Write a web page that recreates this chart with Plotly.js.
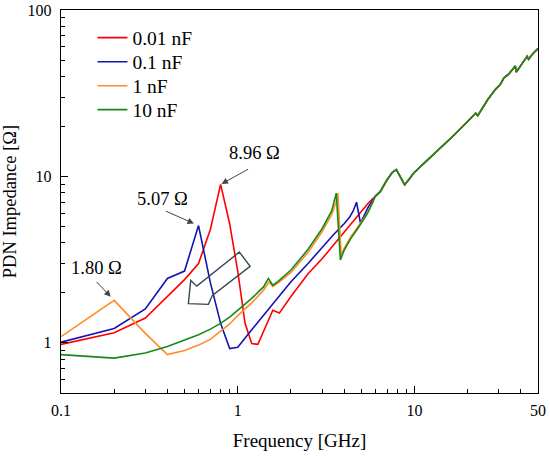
<!DOCTYPE html>
<html>
<head>
<meta charset="utf-8">
<script src="https://cdn.plot.ly/plotly-3.0.1.min.js"></script>
<style>html,body{margin:0;padding:0;background:#fff;}#chart{width:550px;height:458px;}</style>
</head>
<body>
<div id="chart"></div>
<script>
// ---- data (frequency in GHz, impedance in ohm) ----
const seriesNames = ["0.01 nF", "0.1 nF", "1 nF", "10 nF"];
const seriesColors = ["#ff0000", "#1414b4", "#ff8c28", "#168a16"];

const redF = [0.1, 0.2, 0.3, 0.4, 0.5, 0.6, 0.7, 0.8, 0.9, 1.0, 1.1, 1.2, 1.3, 1.58, 1.72, 2.0, 2.5, 3.0, 3.5, 4.0, 4.5, 5.0, 5.5];
const redZ = [0.98, 1.15, 1.41, 1.9, 2.4, 3.0, 4.8, 8.96, 5.2, 2.7, 1.31, 0.99, 0.98, 1.57, 1.51, 1.9, 2.6, 3.2, 3.9, 4.65, 5.4, 6.2, 6.95];

const blueF = [0.1, 0.2, 0.3, 0.4, 0.5, 0.6, 0.7, 0.8, 0.9, 1.0, 1.2, 1.5, 2.0, 2.5, 3.0, 3.5, 4.0, 4.3, 4.5, 4.7, 4.95, 5.2, 5.5];
const blueZ = [1.01, 1.22, 1.60, 2.44, 2.7, 5.07, 2.3, 1.31, 0.925, 0.94, 1.2, 1.6, 2.33, 3.0, 3.75, 4.5, 5.2, 5.7, 6.2, 7.0, 5.25, 5.8, 6.6];

const orangeF = [0.1, 0.2, 0.3, 0.4, 0.5, 0.6, 0.7, 0.8, 0.9, 1.0, 1.2, 1.4, 1.5, 1.58, 1.7, 2.0, 2.5, 3.0, 3.4, 3.6, 3.68, 3.85, 4.0, 4.34, 4.8, 5.4, 5.8];
const orangeZ = [1.09, 1.80, 1.14, 0.85, 0.9, 0.97, 1.05, 1.18, 1.3, 1.46, 1.74, 2.07, 2.32, 2.18, 2.3, 2.65, 3.5, 4.65, 5.9, 7.0, 7.94, 3.35, 3.7, 4.3, 5.0, 6.0, 7.0];

const greenF = [0.1, 0.2, 0.3, 0.4, 0.5, 0.6, 0.7, 0.8, 0.9, 1.0, 1.2, 1.4, 1.49, 1.58, 1.7, 2.0, 2.5, 3.0, 3.4, 3.61, 3.81, 4.0, 4.34, 4.8, 5.4, 5.8];
const greenZ = [0.85, 0.81, 0.87, 0.95, 1.04, 1.12, 1.21, 1.31, 1.43, 1.57, 1.85, 2.17, 2.44, 2.22, 2.35, 2.74, 3.65, 4.85, 6.2, 7.94, 3.15, 3.6, 4.2, 4.9, 5.95, 6.95];

// common high-frequency part (all curves coincide above ~6 GHz)
const tailF = [6.0, 6.4, 7.0, 7.5, 7.9, 8.3, 8.8, 9.3, 9.9, 12, 14, 17, 20, 22.2, 22.8, 23.5, 26, 28.8, 30.5, 32.1, 34, 37.2, 37.7, 40, 43.4, 44.2, 47, 50];
const tailZ = [7.6, 8.1, 9.55, 10.6, 11.0, 10.0, 8.9, 9.6, 10.5, 12.7, 14.8, 18.0, 21.4, 24.0, 23.2, 24.5, 29, 33.5, 35.5, 39.1, 41, 46, 42.4, 46.5, 52.7, 50.6, 55, 58.6];

// tick labels
const xTickVals = [0.1, 1, 10, 50];
const xTickText = ["0.1", "1", "10", "50"];
const yTickVals = [1, 10, 100];
const yTickText = ["1", "10", "100"];
const xMinor = [0.2,0.3,0.4,0.5,0.6,0.7,0.8,0.9,2,3,4,5,6,7,8,9,20,30,40];
const yMinor = [0.6,0.7,0.8,0.9,2,3,4,5,6,7,8,9,20,30,40,50,60,70,80,90];

// peak labels: [frequency, impedance] of the annotated peaks
const peakLabels = [
  {f: 0.8, z: 8.96, text: "8.96 Ω", xs: 34, ys: 31, ax: 29, ay: -16, so: 1},
  {f: 0.6, z: 5.07, text: "5.07 Ω", xs: -36, ys: 27, ax: -34, ay: -15, so: 5},
  {f: 0.2, z: 1.80, text: "1.80 Ω", xs: -18, ys: 32, ax: -19, ay: -20, so: 5}
];

// ---- build traces ----
const FONT = "Liberation Serif";
const legendIds = ["legend", "legend2", "legend3", "legend4"];
const legendY = [0.927, 0.864, 0.8015, 0.739];
const fList = [redF, blueF, orangeF, greenF];
const zList = [redZ, blueZ, orangeZ, greenZ];
const traces = fList.map((f, i) => ({
  type: "scatter", mode: "lines",
  x: f.concat(tailF), y: zList[i].concat(tailZ),
  name: seriesNames[i],
  legend: legendIds[i],
  line: {color: seriesColors[i], width: 1.6}
}));

const annotations = [];
peakLabels.forEach(p => {
  annotations.push({
    x: Math.log10(p.f), y: Math.log10(p.z), xref: "x", yref: "y",
    text: p.text, showarrow: false, xshift: p.xs, yshift: p.ys,
    font: {family: FONT, size: 18.5, color: "#000"}
  });
  annotations.push({
    x: Math.log10(p.f), y: Math.log10(p.z), xref: "x", yref: "y",
    text: "", showarrow: true, ax: p.ax, ay: p.ay, standoff: p.so,
    arrowhead: 2, arrowsize: 1.3, arrowwidth: 1, arrowcolor: "#444"
  });
});

const layout = {
  width: 550, height: 458,
  margin: {l: 61, r: 12, t: 10, b: 65},
  paper_bgcolor: "#fff", plot_bgcolor: "#fff",
  font: {family: FONT, size: 16, color: "#000"},
  showlegend: true,
  xaxis: {
    type: "log", range: [-1, Math.log10(50)],
    tickmode: "array", tickvals: xTickVals, ticktext: xTickText,
    ticks: "inside", ticklen: 7, tickwidth: 1.2, tickcolor: "#000",
    showline: true, linecolor: "#000", linewidth: 1.3, mirror: true,
    showgrid: false, zeroline: false, ticklabelstandoff: 2,
    tickfont: {family: FONT, size: 16},
    minor: {tickmode: "array", tickvals: xMinor, ticks: "inside", ticklen: 4, tickwidth: 1, tickcolor: "#000", showgrid: false},
    title: {text: "Frequency [GHz]", font: {family: FONT, size: 19}, standoff: 16}
  },
  yaxis: {
    type: "log", range: [Math.log10(0.5), 2],
    tickmode: "array", tickvals: yTickVals, ticktext: yTickText,
    ticks: "inside", ticklen: 7, tickwidth: 1.2, tickcolor: "#000",
    showline: true, linecolor: "#000", linewidth: 1.3, mirror: true,
    showgrid: false, zeroline: false, ticklabelstandoff: 5,
    tickfont: {family: FONT, size: 16},
    minor: {tickmode: "array", tickvals: yMinor, ticks: "inside", ticklen: 4, tickwidth: 1, tickcolor: "#000", showgrid: false},
    title: {text: "PDN Impedance [Ω]", font: {family: FONT, size: 18.5}, standoff: 12}
  },
  annotations: annotations,
  shapes: [{
    type: "path", xref: "paper", yref: "paper",
    path: "M 0.374 0.368 L 0.3965 0.3306 L 0.3174 0.255 L 0.309 0.2315 L 0.267 0.2333 L 0.272 0.294 L 0.2847 0.279 Z",
    line: {color: "#37474f", width: 1.4}, fillcolor: "rgba(0,0,0,0)"
  }]
};
legendIds.forEach((id, i) => {
  layout[id] = {x: 0.066, y: legendY[i], xanchor: "left", yanchor: "middle",
                bgcolor: "rgba(0,0,0,0)", font: {family: FONT, size: 19.5},
                itemwidth: 30};
});

Plotly.newPlot("chart", traces, layout, {displayModeBar: false, staticPlot: true});
</script>
</body>
</html>
